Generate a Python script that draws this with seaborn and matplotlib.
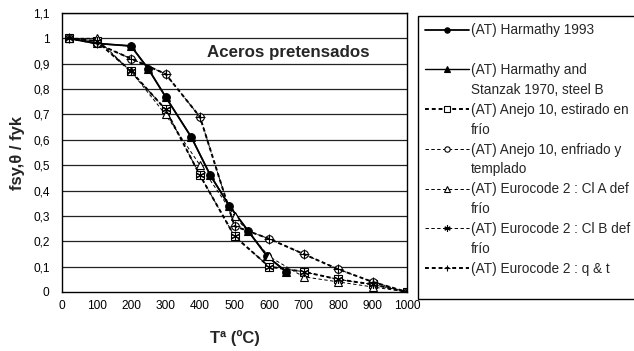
import matplotlib
matplotlib.use("Agg")
import matplotlib.pyplot as plt
from matplotlib.lines import Line2D
import seaborn as sns
import pandas as pd

sns.set_style("white")
plt.rcParams['font.family'] = ['Liberation Sans', 'DejaVu Sans']

# ---------------- data ----------------
temps = [20, 100, 200, 300, 400, 500, 600, 700, 800, 900, 1000]

harmathy_T = [20, 100, 200, 250, 300, 375, 430, 485, 540, 595, 650]
harmathy_1993 = [1.00, 0.98, 0.97, 0.88, 0.77, 0.61, 0.46, 0.34, 0.24, 0.14, 0.08]
harmathy_stanzak = [1.00, 0.98, 0.97, 0.88, 0.77, 0.61, 0.46, 0.34, 0.24, 0.14, 0.08]

anejo_estirado = [1.00, 0.99, 0.87, 0.72, 0.46, 0.22, 0.10, 0.08, 0.05, 0.03, 0.00]
anejo_enfriado = [1.00, 0.98, 0.92, 0.86, 0.69, 0.26, 0.21, 0.15, 0.09, 0.04, 0.00]
ec2_cl_a = [1.00, 1.00, 0.87, 0.70, 0.50, 0.30, 0.14, 0.06, 0.04, 0.02, 0.00]
ec2_cl_b = [1.00, 0.99, 0.87, 0.72, 0.46, 0.22, 0.10, 0.08, 0.05, 0.03, 0.00]
ec2_qt = [1.00, 0.98, 0.92, 0.86, 0.69, 0.26, 0.21, 0.15, 0.09, 0.04, 0.00]

legend_rows = [
    ("(AT) Harmathy 1993", ""),
    ("(AT) Harmathy and", "Stanzak 1970, steel B"),
    ("(AT) Anejo 10, estirado en", "frío"),
    ("(AT) Anejo 10, enfriado y", "templado"),
    ("(AT) Eurocode 2 : Cl A def", "frío"),
    ("(AT) Eurocode 2 : Cl B def", "frío"),
    ("(AT) Eurocode 2 : q & t", ""),
]

xticks = [0, 100, 200, 300, 400, 500, 600, 700, 800, 900, 1000]
yticks = [0, 0.1, 0.2, 0.3, 0.4, 0.5, 0.6, 0.7, 0.8, 0.9, 1.0, 1.1]
ytick_labels = ["0", "0,1", "0,2", "0,3", "0,4", "0,5", "0,6", "0,7", "0,8", "0,9", "1", "1,1"]

title_text = "Aceros pretensados"
xlabel = "Tª (ºC)"
ylabel = "fsy,θ / fyk"

# ---------------- figure ----------------
W, H = 634, 351
fig = plt.figure(figsize=(W / 100, H / 100), dpi=100)
ax = fig.add_axes([62 / W, 1 - 292 / H, 345 / W, 279 / H])

series = [
    (harmathy_T, harmathy_1993, dict(linestyle='-', linewidth=1.3, marker='o', markersize=5.5,
                                      markerfacecolor='black')),
    (harmathy_T, harmathy_stanzak, dict(linestyle='-', linewidth=1.0, marker='^', markersize=5.5,
                                         markerfacecolor='black')),
    (temps, anejo_estirado, dict(linestyle=(0, (2.0, 1.5)), linewidth=1.4, marker='s', markersize=5.5,
                                 markerfacecolor='white')),
    (temps, anejo_enfriado, dict(linestyle=(0, (3.5, 2.5)), linewidth=0.7, marker='o', markersize=5.5,
                                 markerfacecolor='white')),
    (temps, ec2_cl_a, dict(linestyle=(0, (3.5, 2.5)), linewidth=0.7, marker='^', markersize=5.5,
                           markerfacecolor='white')),
    (temps, ec2_cl_b, dict(linestyle=(0, (3.5, 2.5)), linewidth=0.7, marker=(6, 2, 0), markersize=6.5,
                           markerfacecolor='none')),
    (temps, ec2_qt, dict(linestyle=(0, (2.0, 1.5)), linewidth=1.4, marker='+', markersize=6.5,
                         markerfacecolor='none')),
]

handles = []
for xs, ys, st in series:
    df = pd.DataFrame({"T": xs, "v": ys})
    sns.lineplot(data=df, x="T", y="v", ax=ax, color='black', legend=False,
                 markeredgecolor='black', markeredgewidth=0.8, **st)
    handles.append(ax.lines[-1])

ax.set_xlim(0, 1000)
ax.set_ylim(0, 1.1)
ax.set_xticks(xticks)
ax.set_xticks(range(50, 1000, 100), minor=True)
ax.set_yticks(yticks)
ax.set_yticklabels(ytick_labels)
ax.set_yticks([0.05 + 0.1 * i for i in range(11)], minor=True)
ax.tick_params(which='both', direction='in', length=4, width=0.8, color='black')
ax.tick_params(axis='y', which='major', pad=9, labelsize=8.6)
ax.tick_params(axis='x', which='major', pad=6, labelsize=8.6)
for t in ax.get_xticklabels() + ax.get_yticklabels():
    t.set_color('black')

ax.grid(False)
for y in yticks[1:]:
    ax.axhline(y, color='#222222', linewidth=0.9, zorder=0)
for sp in ax.spines.values():
    sp.set_color('black')
    sp.set_linewidth(1.0)
    sp.set_visible(True)

ax.set_xlabel(xlabel, fontsize=12, fontweight='bold')
ax.set_ylabel(ylabel, fontsize=12, fontweight='bold')
ax.xaxis.set_label_coords(0.5, -0.135)
ax.yaxis.set_label_coords(-0.108, 0.5)

ax.text((288.5 - 62) / 345, (292 - 52) / 279, title_text, transform=ax.transAxes,
        ha='center', va='center', fontsize=12.2, fontweight='bold')

# ---------------- legend ----------------
blank = Line2D([], [], linestyle='none', marker=None)
leg_handles, leg_labels = [], []
for h, (l1, l2) in zip(handles, legend_rows):
    leg_handles += [h, blank]
    leg_labels += [l1, l2]

leg = fig.legend(leg_handles, leg_labels, loc='upper left',
                 bbox_to_anchor=(418 / W, 1 - 16 / H), bbox_transform=fig.transFigure,
                 borderaxespad=0, fontsize=9.8, frameon=True, fancybox=False,
                 edgecolor='black', framealpha=1, handlelength=3.2, handletextpad=0.15,
                 labelspacing=0.43, borderpad=0.55, markerscale=0.7)
leg.get_frame().set_linewidth(1.0)
# last (empty) row only keeps a little space at the bottom like the original
leg.get_texts()[-1].set_fontsize(1)

fig.savefig("out.png", dpi=100)
